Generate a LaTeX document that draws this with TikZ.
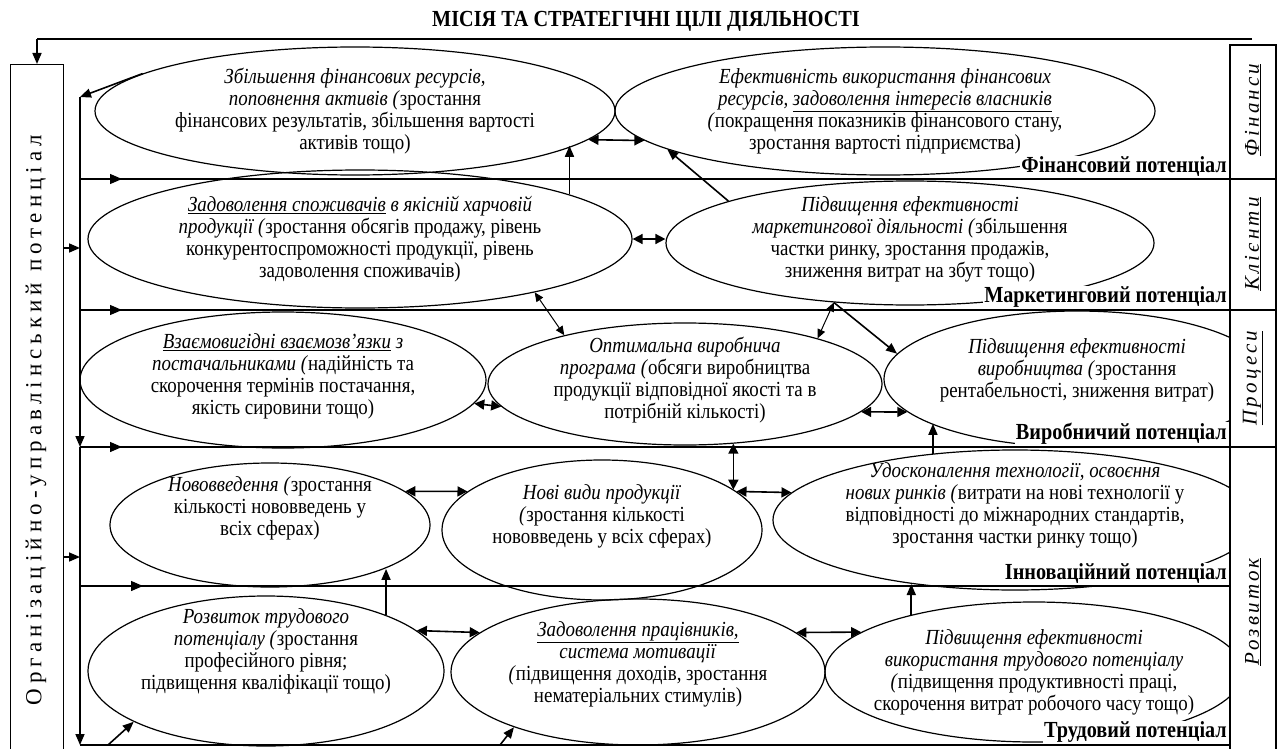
\documentclass[tikz,border=0pt]{standalone}
\usepackage{fontspec}
\setmainfont{Liberation Serif}[FakeStretch=0.88]
\newfontfamily\spacedfont{Liberation Serif}[LetterSpace=22]
\newfontfamily\sidefont{Liberation Serif}[LetterSpace=15]
\usetikzlibrary{shapes.geometric,arrows.meta,decorations.markings}
\tikzstyle{goal}      = [ellipse, draw, line width=1.2pt, inner sep=0pt]
\tikzstyle{goaltext}  = [align=center, inner sep=0pt, font=\fontsize{21.5}{22}\selectfont]
\tikzstyle{potential} = [anchor=south east, fill=white, inner sep=1pt, font=\bfseries\fontsize{23}{23}\selectfont]
\tikzstyle{side}      = [rotate=90, font=\sidefont\itshape\fontsize{21}{22}\selectfont]
\tikzstyle{band}      = [draw, line width=1.3pt]
\tikzstyle{flow}      = [draw, line width=1.6pt, -{Triangle[length=11pt,width=9pt]}]
\tikzstyle{both}      = [draw, line width=1.6pt, {Triangle[length=10pt,width=10pt]}-{Triangle[length=10pt,width=10pt]}]
\tikzstyle{thinboth}  = [draw, line width=1pt, {Triangle[length=9pt,width=8pt]}-{Triangle[length=9pt,width=8pt]}]
\tikzset{bandarrow/.style={band, postaction={decorate},
  decoration={markings, mark=at position #1 with {\arrow{Triangle[length=12pt,width=10pt]}}}}}

\begin{document}
\begin{tikzpicture}[x=1pt, y=-1pt]
\useasboundingbox (0,0) rectangle (1279,749);
\fill[white] (0,0) rectangle (1279,749);

% mission
\node[font=\bfseries\fontsize{23}{23}\selectfont] (mission) at (646,21) {МІСІЯ ТА СТРАТЕГІЧНІ ЦІЛІ ДІЯЛЬНОСТІ};

% goals
\node[goal, minimum width=520pt, minimum height=128pt] (e1) at (355,111) {};
\node[goal, minimum width=540pt, minimum height=128pt] (e2) at (885,111) {};
\node[goal, minimum width=544pt, minimum height=138pt] (e3) at (360,239) {};
\node[goal, minimum width=488pt, minimum height=124pt] (e4) at (910,243) {};
\node[goal, minimum width=406pt, minimum height=136pt] (e5) at (283,380) {};
\node[goal, minimum width=394pt, minimum height=122pt] (e6) at (685,384) {};
\node[goal, minimum width=320pt, minimum height=124pt] (e8) at (270,525) {};
\node[goal, minimum width=320pt, minimum height=140pt] (e9) at (602,530) {};
\node[goal, minimum width=356pt, minimum height=150pt] (e11) at (266,671) {};
\node[goal, minimum width=374pt, minimum height=146pt] (e12) at (638,672) {};
\begin{scope}
  \clip (80,40) rectangle (1230,752);
  \node[goal, minimum width=386pt, minimum height=136pt] (e7) at (1077,379) {};
  \node[goal, minimum width=484pt, minimum height=140pt] (e10) at (1015,520) {};
  \node[goal, minimum width=418pt, minimum height=140pt] (e13) at (1034,672) {};
\end{scope}

\node[goaltext] at (e1) {\textit{Збільшення фінансових ресурсів,}\\\textit{поповнення активів (}зростання\\фінансових результатів, збільшення вартості\\активів тощо)};
\node[goaltext] at (e2) {\textit{Ефективність використання фінансових}\\\textit{ресурсів, \underline{задоволення інтересів власників}}\\\textit{(}покращення показників фінансового стану,\\зростання вартості підприємства)};
\node[goaltext] at (e3) {\textit{\underline{Задоволення споживачів} в якісній харчовій}\\\textit{продукції (}зростання обсягів продажу, рівень\\конкурентоспроможності продукції, рівень\\задоволення споживачів)};
\node[goaltext, yshift=4pt] at (e4) {\textit{Підвищення ефективності}\\\textit{маркетингової діяльності (}збільшення\\частки ринку, зростання продажів,\\зниження витрат на збут тощо)};
\node[goaltext, yshift=4pt] at (e5) {\textit{\underline{Взаємовигідні взаємозв’язки} з}\\\textit{постачальниками (}надійність та\\скорочення термінів постачання,\\якість сировини тощо)};
\node[goaltext, yshift=4pt] at (e6) {\textit{Оптимальна виробнича}\\\textit{програма (}обсяги виробництва\\продукції відповідної якості та в\\потрібній кількості)};
\node[goaltext, yshift=9pt] at (e7) {\textit{Підвищення ефективності}\\\textit{виробництва (}зростання\\рентабельності, зниження витрат)};
\node[goaltext, yshift=17pt] at (e8) {\textit{Нововведення (}зростання\\кількості нововведень у\\всіх сферах)};
\node[goaltext, yshift=14pt] at (e9) {\textit{Нові види продукції}\\\textit{(}зростання кількості\\нововведень у всіх сферах)};
\node[goaltext, yshift=15pt] at (e10) {\textit{Удосконалення технології, освоєння}\\\textit{нових ринків (}витрати на нові технології у\\відповідності до міжнародних стандартів,\\зростання частки ринку тощо)};
\node[goaltext, yshift=20pt] at (e11) {\textit{Розвиток трудового}\\\textit{потенціалу (}зростання\\професійного рівня;\\підвищення кваліфікації тощо)};
\node[goaltext, yshift=8pt] at (e12) {\textit{\underline{Задоволення працівників,}}\\\textit{система мотивації}\\\textit{(}підвищення доходів, зростання\\нематеріальних стимулів)};
\node[goaltext] at (e13) {\textit{Підвищення ефективності}\\\textit{використання трудового потенціалу}\\\textit{(}підвищення продуктивності праці,\\скорочення витрат робочого часу тощо)};

% potentials
\coordinate (v1) at (80,179);  \coordinate (r1) at (1230,179);
\coordinate (v2) at (80,310);  \coordinate (r2) at (1230,310);
\coordinate (v3) at (80,447);  \coordinate (r3) at (1230,447);
\coordinate (v4) at (80,586);  \coordinate (r4) at (1230,586);
\coordinate (v5) at (80,745);  \coordinate (r5) at (1230,745);
\node[potential] at (1228,178) {Фінансовий потенціал};
\node[potential] at (1228,309) {Маркетинговий потенціал};
\node[potential] at (1228,446) {Виробничий потенціал};
\node[potential] at (1228,585) {Інноваційний потенціал};
\node[potential] at (1228,744) {Трудовий потенціал};
\path[bandarrow=42pt] (v1) -- (r1);
\path[bandarrow=42pt] (v2) -- (r2);
\path[bandarrow=42pt] (v3) -- (r3);
\path[bandarrow=63pt] (v4) -- (r4);
\path[band] (v5) -- (r5);

% left box
\node[draw, line width=1.3pt, minimum width=53pt, minimum height=690pt, anchor=north west] (lbox) at (10,64) {};
\node[rotate=90, font=\spacedfont\fontsize{23}{23}\selectfont] at (36,420) {Організаційно-управлінський потенціал};
\coordinate (tl) at (37,39);
\coordinate (tr) at (1252,39);
\coordinate (vtop) at (80,97);
\path[band] (tr) -- (tl);
\path[flow] (tl) -- (lbox.north -| tl);
\coordinate (in1) at (80,248);
\coordinate (in2) at (80,557);
\path[flow] (lbox.east |- in1) -- (in1);
\path[flow] (lbox.east |- in2) -- (in2);
\path[flow] (vtop) -- (v3);
\path[flow] (v3) -- (v5);

% right column
\draw[line width=1.3pt] (1230,45) rectangle (1276,752);
\draw[line width=1.3pt] (r1) -- ++(46,0) (r2) -- ++(46,0) (r3) -- ++(46,0);
\node[side] at (1253,110) {\underline{Фінанси}};
\node[side] at (1253,244) {\underline{Клієнти}};
\node[side] at (1253,378) {\underline{Процеси}};
\node[side] at (1253,612) {\underline{Розвиток}};

% links
\path[flow] (e1.170.5) -- (vtop);
\path[both] (e1.-7) -- (e2.-173);
\path[flow] (e3.12) -- (e3.12 |- e1.-9.5);
\path[flow] (e4.167) -- (e2.190);
\path[both] (e3.east) -- (e3.east -| e4.west);
\path[thinboth] (e3.-17) -- (e6.158);
\path[thinboth] (e4.-142) -- (e6.19);
\path[flow] (e4.-142) -- (e7.172.5);
\path[both] (e5.-7.5) -- (e6.-173.5);
\path[both] (e6.-9) -- (e7.-169);
\path[flow] (e10.141) -- (e10.141 |- e7.-163);
\path[both] (e6.-51) -- (e6.-51 |- e9.17);
\path[both] (e8.14) -- (e9.164);
\path[both] (e9.16) -- (e10.173);
\path[flow] (e11.25) -- (e11.25 |- e8.-21);
\path[flow] (e13.155) -- (e13.155 |- e10.-148);
\path[both] (e11.15) -- (e12.166);
\path[both] (e12.14) -- (e13.167);
\coordinate (b1) at (108,745);
\coordinate (b2) at (500,745);
\path[flow] (b1) -- (e11.-159);
\path[flow] (b2) -- (e12.-156);
\end{tikzpicture}
\end{document}
